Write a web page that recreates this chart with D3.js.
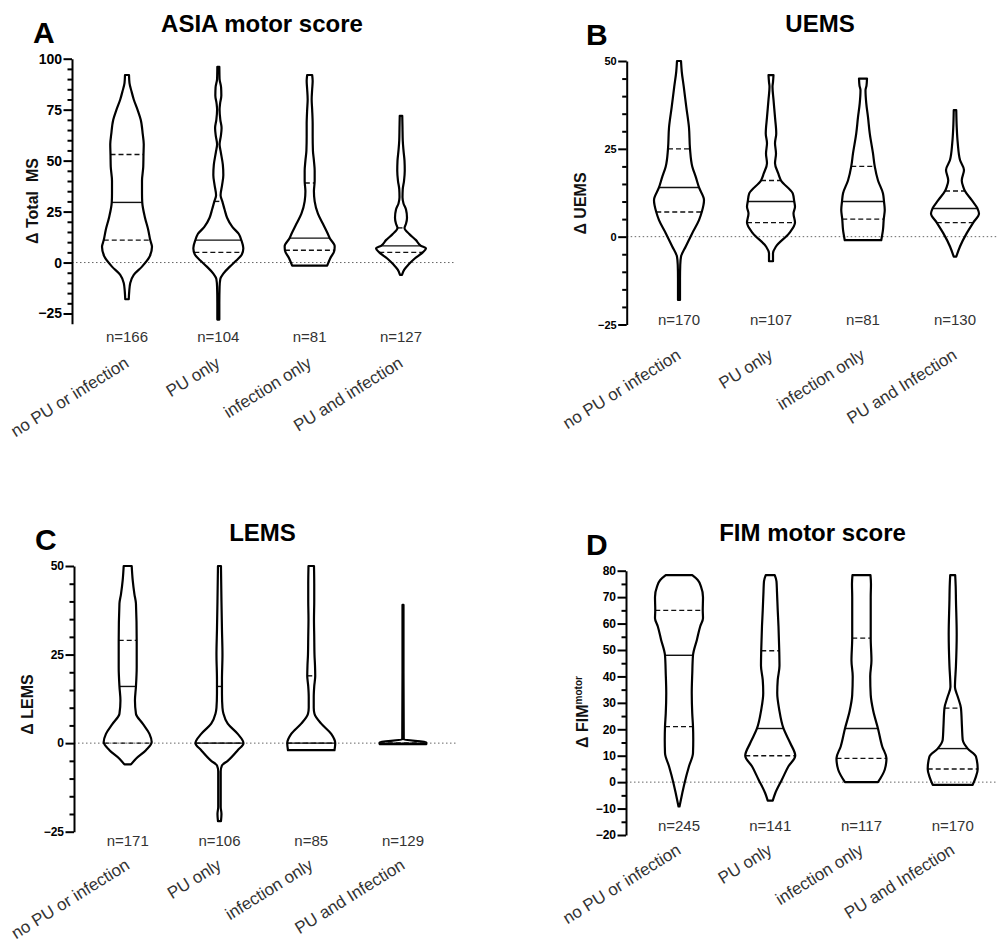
<!DOCTYPE html>
<html>
<head>
<meta charset="utf-8">
<script src="https://cdn.jsdelivr.net/npm/d3@7"></script>
<style>
  body { margin: 0; background: #fff; }
  svg { display: block; }
  text { font-family: "Liberation Sans", Arial, Helvetica, sans-serif; }
</style>
</head>
<body>
<svg id="chart" width="998" height="947"></svg>
<script>
// Group names (panel A writes "infection", the others "Infection").
var groupsA = ["no PU or infection", "PU only", "infection only", "PU and infection"];
var groupsB = ["no PU or infection", "PU only", "infection only", "PU and Infection"];

// Sample sizes.
var nAsia = [166, 104, 81, 127];
var nUems = [170, 107, 81, 130];
var nLems = [171, 106, 85, 129];
var nFim = [245, 141, 117, 170];

// Quartiles [Q1, median, Q3].
var qAsia = [[11, 29.5, 53], [5, 11, 30], [6, 12, 39], [5, 8.2, 17]];
var qUems = [[7, 14, 25], [4, 10, 16], [5, 10, 20], [4, 8, 13]];
var qLems = [[0, 16, 29], [0, 0, 16], [0, 0, 19], [0, 0, 0]];
var qFim = [[21, 48, 65], [10, 20.3, 49.7], [9, 20.3, 54.5], [5, 12.7, 28]];

// Violin outlines: [value, relative half-width (1 = widest)].
var violinAsia = [
  [[92, 0.08], [88, 0.1], [84, 0.18], [80, 0.27], [75, 0.42], [70, 0.55], [63, 0.63], [58, 0.67], [53, 0.66],
   [47, 0.65], [40, 0.6], [34, 0.6], [29.5, 0.61], [22, 0.72], [16, 0.85], [11, 0.93], [7.7, 1.0], [2.8, 0.9],
   [-2, 0.6], [-6, 0.27], [-10, 0.13], [-14, 0.09], [-18, 0.07]],
  [[96, 0.04], [90, 0.05], [86, 0.11], [82, 0.12], [78, 0.07], [75, 0.05], [70, 0.08], [66, 0.13], [62, 0.1],
   [58, 0.05], [54, 0.1], [48, 0.18], [43, 0.2], [38, 0.15], [33, 0.09], [30, 0.16], [26, 0.25], [22, 0.35],
   [17.5, 0.56], [14, 0.82], [11, 0.92], [7, 1.0], [4, 0.94], [1, 0.72], [-2, 0.46], [-5.4, 0.2], [-8, 0.08],
   [-12, 0.05], [-20, 0.04], [-28, 0.04]],
  [[92, 0.1], [89, 0.12], [85, 0.1], [80, 0.08], [75, 0.1], [68, 0.12], [62, 0.12], [55, 0.13], [50, 0.17],
   [45, 0.2], [40, 0.2], [35, 0.17], [30, 0.2], [24, 0.33], [19, 0.53], [14, 0.73], [12, 0.8], [8, 1.0],
   [6, 0.99], [2, 0.82], [-1.5, 0.7]],
  [[72, 0.05], [66, 0.06], [60, 0.07], [55, 0.1], [50, 0.14], [45, 0.15], [40, 0.12], [36, 0.07], [32, 0.06],
   [29, 0.1], [26, 0.2], [22, 0.24], [19, 0.2], [17, 0.14], [14, 0.33], [11, 0.6], [8.2, 0.8], [7, 1.0],
   [5, 0.87], [2, 0.55], [-1, 0.3], [-3.5, 0.13], [-6, 0.04]]
];
var violinUems = [
  [[50, 0.08], [47, 0.11], [42.7, 0.19], [37, 0.29], [31, 0.4], [25, 0.44], [20, 0.53], [17, 0.67], [14, 0.8],
   [10.4, 1.0], [7, 0.91], [4.7, 0.8], [1, 0.53], [-2.8, 0.27], [-5.7, 0.08], [-8, 0.05], [-12, 0.04], [-18, 0.04]],
  [[46, 0.1], [44, 0.08], [42.7, 0.06], [39, 0.1], [34, 0.16], [29.4, 0.21], [26.6, 0.16], [23.7, 0.2],
   [20.9, 0.16], [18, 0.29], [16, 0.4], [12.3, 0.87], [10, 0.93], [8.5, 0.96], [6.6, 0.9], [4, 0.96], [1, 0.73],
   [-2.8, 0.2], [-4.7, 0.08], [-7, 0.08]],
  [[45, 0.16], [43, 0.14], [41.7, 0.1], [38, 0.13], [34, 0.2], [29.4, 0.27], [23.7, 0.4], [20, 0.47], [16, 0.6],
   [12.3, 0.8], [10, 0.84], [7.6, 0.87], [5, 0.83], [2, 0.8], [-1, 0.73]],
  [[36, 0.05], [31, 0.07], [26.6, 0.11], [21.8, 0.2], [19, 0.36], [16, 0.27], [14.2, 0.33], [13, 0.4],
   [10.4, 0.67], [8, 0.9], [6.6, 0.96], [4, 0.73], [1, 0.47], [-2.8, 0.2], [-5.7, 0.05]]
];
var violinLems = [
  [[50, 0.16], [46, 0.2], [42, 0.27], [39.4, 0.33], [29, 0.36], [21.5, 0.36], [16, 0.33], [12, 0.29], [8.3, 0.33],
   [5.5, 0.6], [2.6, 0.87], [0.3, 0.96], [-2, 0.73], [-4.4, 0.33], [-6, 0.13]],
  [[50, 0.06], [40, 0.08], [32, 0.1], [25, 0.12], [18, 0.1], [14, 0.1], [10, 0.12], [8.3, 0.16], [5.5, 0.33],
   [2.6, 0.73], [0, 0.96], [-2, 0.73], [-5, 0.33], [-6.3, 0.1], [-8, 0.05], [-18, 0.05], [-20, 0.08], [-22, 0.06]],
  [[50, 0.11], [45, 0.12], [40, 0.12], [35, 0.11], [30, 0.12], [25, 0.13], [22, 0.15], [19, 0.16], [16, 0.12],
   [13, 0.1], [10, 0.1], [8.3, 0.13], [5.5, 0.4], [2.6, 0.8], [0, 0.96], [-2, 0.93]],
  [[39, 0.02], [20, 0.02], [1, 0.03], [0.3, 0.93], [-0.3, 0.93]]
];
var violinFim = [
  [[78.3, 0.53], [76.5, 0.75], [74, 0.88], [70, 0.96], [65, 0.95], [62, 0.96], [59, 0.85], [54, 0.72], [48, 0.56],
   [41, 0.53], [33.7, 0.51], [26, 0.53], [21, 0.56], [16, 0.57], [11, 0.56], [6, 0.4], [0, 0.23], [-4.2, 0.13],
   [-9.2, 0.02]],
  [[78.3, 0.18], [76, 0.25], [72, 0.27], [65, 0.3], [59, 0.33], [50, 0.36], [44, 0.37], [38.7, 0.3], [33.7, 0.28],
   [27.4, 0.36], [20.3, 0.53], [14.8, 0.8], [10, 1.0], [6, 0.73], [1, 0.47], [-4.2, 0.2], [-7, 0.1]],
  [[78.3, 0.36], [75, 0.38], [70, 0.37], [60, 0.37], [54.5, 0.37], [46, 0.4], [40, 0.35], [33, 0.37], [27, 0.47],
   [20.3, 0.66], [13.5, 0.83], [9, 1.0], [4.7, 0.93], [0, 0.66]],
  [[78.3, 0.1], [74, 0.12], [69, 0.13], [56, 0.16], [44, 0.13], [36, 0.09], [32.4, 0.2], [28, 0.33], [21, 0.37],
   [16, 0.4], [12.7, 0.6], [9.7, 0.93], [5, 1.0], [2.1, 0.93], [-1, 0.8]]
];

// Axis settings.
var domAsia = [-30, 100], majAsia = [-25, 0, 25, 50, 75, 100];
var domUems = [-25, 50], majUems = [-25, 0, 25, 50];
var domLems = [-25, 50], majLems = [-25, 0, 25, 50];
var domFim = [-20, 80], majFim = [-20, -10, 0, 10, 20, 30, 40, 50, 60, 70, 80];

// Panel layouts.
var panels = [
  {letter: "A", title: "ASIA motor score", ylab: ["Δ Total\u00a0\u00a0MS"], groups: groupsA, n: nAsia, q: qAsia, v: violinAsia,
   dom: domAsia, major: majAsia, ax: 72, top: 58.7, bottom: 323.7, x0: 127, x1: 401, zeroEnd: 455,
   titleX: 262, titleY: 32, letterX: 33, letterY: 43, ylabX: 38, ylabY: 201, nY: 341.7, catY: 357, tickFont: 14},
  {letter: "B", title: "UEMS", ylab: ["Δ UEMS"], groups: groupsB, n: nUems, q: qUems, v: violinUems,
   dom: domUems, major: majUems, ax: 626.7, top: 61, bottom: 324.5, x0: 679, x1: 955, zeroEnd: 998,
   titleX: 820, titleY: 32, letterX: 586, letterY: 45, ylabX: 586, ylabY: 203.5, nY: 325, catY: 349, tickFont: 11},
  {letter: "C", title: "LEMS", ylab: ["Δ LEMS"], groups: groupsB, n: nLems, q: qLems, v: violinLems,
   dom: domLems, major: majLems, ax: 74, top: 566, bottom: 831.7, x0: 127.7, x1: 403, zeroEnd: 456,
   titleX: 262.5, titleY: 540.7, letterX: 35, letterY: 550, ylabX: 33, ylabY: 704.5, nY: 846, catY: 859, tickFont: 12},
  {letter: "D", title: "FIM motor score", ylab: ["Δ FIM", "motor"], groups: groupsB, n: nFim, q: qFim, v: violinFim,
   dom: domFim, major: majFim, ax: 626, top: 570.7, bottom: 835, x0: 679, x1: 952.7, zeroEnd: 998,
   titleX: 812.5, titleY: 541, letterX: 586, letterY: 555, ylabX: 588, ylabY: 712, nY: 831, catY: 844, tickFont: 12}
];

var svg = d3.select("#chart");
var wScale = d3.scaleLinear().domain([0, 1]).range([0, 25]);

// Half-width of a violin at a given value (linear between outline points).
function halfAt(prof, v) {
  for (var i = 0; i < prof.length - 1; i++) {
    var a = prof[i], b = prof[i + 1];
    if (v <= a[0] && v >= b[0]) {
      var t = a[0] === b[0] ? 0 : (a[0] - v) / (a[0] - b[0]);
      return a[1] + (b[1] - a[1]) * t;
    }
  }
  return 0;
}

panels.forEach(function (p) {
  var g = svg.append("g");
  var y = d3.scaleLinear().domain(p.dom).range([p.bottom, p.top]);
  var x = d3.scalePoint().domain(p.groups).range([p.x0, p.x1]);

  // Panel letter and title.
  g.append("text").attr("x", p.letterX).attr("y", p.letterY)
    .style("font-size", "30px").style("font-weight", "bold").text(p.letter);
  g.append("text").attr("x", p.titleX).attr("y", p.titleY).attr("text-anchor", "middle")
    .style("font-size", "24px").style("font-weight", "bold").text(p.title);

  // Zero reference line.
  g.append("line")
    .attr("x1", p.ax).attr("x2", p.zeroEnd).attr("y1", y(0)).attr("y2", y(0))
    .attr("stroke", "#666").attr("stroke-width", 1).attr("stroke-dasharray", "1.5,2.5");

  // Minor ticks.
  var minor = d3.range(p.dom[0] + 5, p.dom[1] + 0.1, 5).filter(function (d) {
    return p.major.indexOf(d) < 0;
  });
  g.append("g").attr("transform", "translate(" + p.ax + ",0)")
    .call(d3.axisLeft(y).tickValues(minor).tickSize(4.5).tickSizeOuter(0).tickFormat(""))
    .call(function (a) {
      a.select(".domain").remove();
      a.selectAll("line").attr("stroke", "#000").attr("stroke-width", 2);
    });

  // Major axis.
  g.append("g").attr("transform", "translate(" + p.ax + ",0)")
    .call(d3.axisLeft(y).tickValues(p.major).tickSize(8.5).tickSizeOuter(0).tickPadding(1.5))
    .call(function (a) {
      a.select(".domain").attr("stroke", "#000").attr("stroke-width", 2);
      a.selectAll("line").attr("stroke", "#000").attr("stroke-width", 2);
      a.selectAll("text").attr("fill", "#000")
        .style("font-size", p.tickFont + "px").style("font-weight", "bold")
        .style("font-family", "'Liberation Sans', Arial, sans-serif");
    });

  // Y-axis label.
  var yl = g.append("text")
    .attr("transform", "translate(" + p.ylabX + "," + p.ylabY + ") rotate(-90)")
    .attr("text-anchor", "middle")
    .style("font-size", "16px").style("font-weight", "bold").attr("fill", "#111");
  yl.append("tspan").text(p.ylab[0]);
  if (p.ylab[1]) {
    yl.append("tspan").attr("dy", "-6").style("font-size", "10px").text(p.ylab[1]);
  }

  // Violins.
  p.groups.forEach(function (grp, i) {
    var cx = x(grp);
    var prof = p.v[i];
    var area = d3.area()
      .y(function (d) { return y(d[0]); })
      .x0(function (d) { return cx - wScale(d[1]); })
      .x1(function (d) { return cx + wScale(d[1]); })
      .curve(d3.curveMonotoneY);

    // Quartile lines.
    p.q[i].forEach(function (v, k) {
      var hw = wScale(halfAt(prof, v));
      g.append("line")
        .attr("x1", cx - hw).attr("x2", cx + hw).attr("y1", y(v)).attr("y2", y(v))
        .attr("stroke", "#111").attr("stroke-width", 1.4)
        .attr("stroke-dasharray", k === 1 ? null : "5,3");
    });

    g.append("path")
      .attr("d", area(prof))
      .attr("fill", "none").attr("stroke", "#000").attr("stroke-width", 2.2)
      .attr("stroke-linejoin", "round");

    // n label.
    g.append("text").attr("x", cx).attr("y", p.nY).attr("text-anchor", "middle")
      .style("font-size", "15px").attr("fill", "#333").text("n=" + p.n[i]);

    // Rotated group label.
    g.append("text")
      .attr("transform", "translate(" + (cx + 3) + "," + (p.catY + 9) + ") rotate(-32)")
      .attr("text-anchor", "end")
      .style("font-size", "17px").attr("fill", "#333").text(grp);
  });
});
</script>
</body>
</html>
